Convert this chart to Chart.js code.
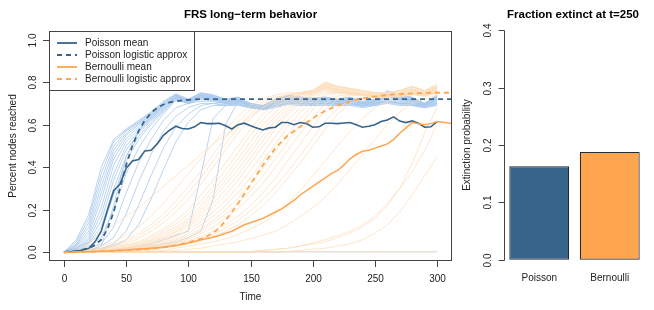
<!DOCTYPE html>
<html>
<head>
<meta charset="utf-8">
<script src="https://cdn.jsdelivr.net/npm/chart.js@4"></script>
<style>
  body { margin: 0; background: #fff; }
  #wrap { position: relative; width: 654px; height: 310px; }
  #left { position: absolute; left: 0; top: 0; }
  #right { position: absolute; left: 460px; top: 0; }
</style>
</head>
<body>
<div id="wrap">
  <canvas id="left" width="460" height="310"></canvas>
  <canvas id="right" width="194" height="310"></canvas>
</div>
<script>
// time grids
const timeFine = [0,5,10,15,20,25,30,35,40,45,50,55,60,65,70,75,80,85,90,95,100,105,110,115,120,125,130,135,140,145,150,
  155,160,165,170,175,180,185,190,195,200,205,210,215,220,225,230,235,240,245,250,255,260,265,270,275,280,285,290,295,300];
const timeExt = timeFine.concat([320]);
const timeCoarse = [0,10,20,30,40,50,60,70,80,90,100,110,120,130,140,150,160,170,180,190,200,210,220,230,240,250,260,270,280,290,300];

// mean curves (step 5)
const poissonMean = [0,0.003,0.006,0.012,0.02,0.05,0.10,0.20,0.29,0.32,0.395,0.43,0.437,0.477,0.48,0.51,0.55,0.574,0.593,0.582,0.58,0.59,0.61,0.605,0.605,0.607,0.595,0.58,0.60,0.607,0.595,
  0.585,0.575,0.585,0.588,0.61,0.61,0.60,0.61,0.605,0.588,0.59,0.607,0.607,0.605,0.608,0.61,0.60,0.588,0.593,0.60,0.615,0.622,0.637,0.617,0.61,0.618,0.607,0.588,0.59,0.614];
const poissonLogis = [0.003,0.005,0.008,0.013,0.02,0.035,0.06,0.11,0.19,0.30,0.41,0.50,0.57,0.62,0.655,0.68,0.695,0.705,0.71,0.714,0.717,0.719,0.72,0.72,0.72,0.72,0.72,0.72,0.72,0.72,0.72,
  0.72,0.72,0.72,0.72,0.72,0.72,0.72,0.72,0.72,0.72,0.72,0.72,0.72,0.72,0.72,0.72,0.72,0.72,0.72,0.72,0.72,0.72,0.72,0.72,0.72,0.72,0.72,0.72,0.72,0.72,0.72];
const bernMean = [0,0.001,0.002,0.003,0.004,0.005,0.006,0.007,0.008,0.01,0.012,0.014,0.016,0.018,0.02,0.022,0.025,0.029,0.033,0.039,0.045,0.052,0.06,0.066,0.072,0.08,0.09,0.10,0.115,0.13,0.14,
  0.15,0.16,0.175,0.19,0.205,0.225,0.245,0.27,0.29,0.31,0.33,0.35,0.37,0.385,0.41,0.44,0.46,0.475,0.48,0.49,0.50,0.51,0.53,0.56,0.585,0.61,0.605,0.60,0.605,0.615,0.60];
const bernLogis = [0.002,0.003,0.003,0.004,0.004,0.005,0.006,0.007,0.008,0.009,0.011,0.012,0.014,0.016,0.019,0.022,0.025,0.029,0.034,0.04,0.047,0.055,0.064,0.076,0.092,0.115,0.15,0.19,0.23,0.275,0.32,
  0.365,0.41,0.45,0.49,0.52,0.55,0.57,0.59,0.61,0.63,0.648,0.665,0.678,0.69,0.70,0.71,0.717,0.723,0.728,0.732,0.736,0.739,0.742,0.744,0.746,0.747,0.748,0.749,0.75,0.75,0.75];

// individual Poisson runs (step 10)
const poissonRuns = [
  [0,0.06,0.18,0.40,0.53,0.58,0.62,0.66,0.71,0.745,0.72,0.75,0.74,0.72,0.73,0.70,0.69,0.72,0.74,0.73,0.725,0.73,0.72,0.73,0.71,0.72,0.76,0.74,0.73,0.70,0.74],
  [0,0.05,0.16,0.37,0.52,0.575,0.615,0.655,0.705,0.742,0.718,0.748,0.738,0.718,0.728,0.698,0.688,0.718,0.738,0.728,0.722,0.728,0.718,0.728,0.708,0.718,0.755,0.738,0.728,0.70,0.738],
  [0,0.04,0.14,0.34,0.50,0.57,0.61,0.65,0.70,0.74,0.715,0.745,0.735,0.715,0.725,0.695,0.685,0.715,0.735,0.725,0.72,0.725,0.715,0.725,0.705,0.715,0.75,0.735,0.725,0.70,0.735],
  [0,0.035,0.12,0.31,0.48,0.56,0.605,0.645,0.695,0.738,0.712,0.742,0.732,0.712,0.722,0.692,0.685,0.712,0.732,0.722,0.718,0.722,0.712,0.722,0.702,0.712,0.748,0.732,0.722,0.698,0.732],
  [0,0.03,0.10,0.28,0.46,0.55,0.60,0.64,0.69,0.735,0.71,0.74,0.73,0.71,0.72,0.69,0.685,0.71,0.73,0.72,0.715,0.72,0.71,0.72,0.70,0.71,0.745,0.73,0.72,0.695,0.73],
  [0,0.025,0.085,0.25,0.44,0.535,0.59,0.635,0.685,0.732,0.71,0.738,0.728,0.71,0.718,0.69,0.682,0.708,0.728,0.718,0.712,0.718,0.71,0.718,0.70,0.71,0.742,0.728,0.718,0.695,0.728],
  [0,0.02,0.07,0.21,0.41,0.52,0.58,0.63,0.68,0.73,0.71,0.735,0.725,0.71,0.715,0.69,0.68,0.705,0.725,0.715,0.71,0.715,0.71,0.715,0.70,0.71,0.74,0.725,0.715,0.695,0.725],
  [0,0.015,0.06,0.18,0.37,0.50,0.57,0.625,0.675,0.728,0.708,0.732,0.722,0.708,0.712,0.69,0.68,0.702,0.722,0.712,0.71,0.712,0.708,0.712,0.70,0.708,0.738,0.722,0.712,0.692,0.722],
  [0,0.02,0.05,0.15,0.34,0.48,0.56,0.62,0.67,0.725,0.705,0.73,0.72,0.705,0.71,0.69,0.68,0.70,0.72,0.71,0.71,0.71,0.705,0.71,0.70,0.705,0.735,0.72,0.71,0.69,0.72],
  [0,0.012,0.045,0.12,0.30,0.45,0.545,0.61,0.665,0.722,0.702,0.728,0.718,0.702,0.71,0.688,0.678,0.70,0.718,0.708,0.708,0.708,0.702,0.708,0.698,0.702,0.732,0.718,0.708,0.69,0.718],
  [0,0.01,0.04,0.10,0.27,0.43,0.53,0.60,0.66,0.72,0.70,0.725,0.715,0.70,0.71,0.685,0.675,0.70,0.715,0.705,0.705,0.705,0.70,0.705,0.695,0.70,0.73,0.715,0.705,0.69,0.715],
  [0,0.01,0.03,0.07,0.20,0.37,0.49,0.58,0.65,0.715,0.70,0.72,0.71,0.70,0.705,0.685,0.675,0.695,0.71,0.70,0.70,0.70,0.70,0.70,0.69,0.70,0.72,0.71,0.70,0.69,0.71],
  [0,0.005,0.02,0.04,0.12,0.28,0.42,0.53,0.62,0.68,0.70,0.71,0.71,0.70,0.70,0.68,0.675,0.69,0.705,0.70,0.70,0.70,0.70,0.70,0.69,0.70,0.715,0.705,0.70,0.69,0.705],
  [0,0.005,0.01,0.03,0.07,0.18,0.33,0.46,0.57,0.64,0.68,0.70,0.70,0.695,0.70,0.68,0.675,0.69,0.70,0.70,0.695,0.70,0.695,0.70,0.69,0.695,0.71,0.70,0.695,0.685,0.70],
  [0,0,0.01,0.02,0.04,0.10,0.22,0.36,0.49,0.59,0.65,0.69,0.70,0.69,0.695,0.68,0.67,0.685,0.70,0.695,0.69,0.695,0.69,0.695,0.685,0.69,0.705,0.695,0.69,0.68,0.695],
  [0,0,0.005,0.015,0.03,0.06,0.13,0.25,0.39,0.52,0.61,0.67,0.69,0.69,0.69,0.68,0.67,0.68,0.695,0.69,0.69,0.69,0.69,0.69,0.68,0.69,0.70,0.69,0.69,0.68,0.69],
  [0,0.005,0.01,0.03,0.22,0.45,0.57,0.64,0.69,0.73,0.71,0.735,0.725,0.71,0.715,0.69,0.68,0.705,0.725,0.715,0.71,0.715,0.71,0.715,0.70,0.71,0.74,0.725,0.715,0.695,0.725],
  [0,0,0.005,0.01,0.015,0.02,0.03,0.04,0.06,0.08,0.10,0.36,0.63,0.69,0.70,0.68,0.675,0.69,0.70,0.70,0.695,0.70,0.695,0.70,0.69,0.695,0.71,0.70,0.695,0.685,0.70],
  [0,0,0,0.005,0.01,0.015,0.02,0.03,0.04,0.05,0.07,0.10,0.25,0.60,0.71,0.70,0.69,0.70,0.71,0.70,0.70,0.70,0.70,0.70,0.69,0.70,0.71,0.70,0.70,0.69,0.70],
  [0,0.003,0.003,0.003,0.003,0.003,0.003,0.003,0.003,0.003,0.003,0.003,0.003,0.003,0.003,0.003,0.003,0.003,0.003,0.003,0.003,0.003,0.003,0.003,0.003,0.003,0.003,0.003,0.003,0.003,0.003]
];

// individual Bernoulli runs (step 10)
const bernRuns = [
  [0,0.01,0.04,0.09,0.13,0.17,0.21,0.26,0.31,0.36,0.41,0.46,0.51,0.55,0.59,0.64,0.68,0.71,0.73,0.74,0.76,0.80,0.78,0.77,0.76,0.75,0.75,0.76,0.78,0.76,0.79],
  [0,0.005,0.015,0.03,0.05,0.08,0.12,0.17,0.23,0.30,0.37,0.44,0.51,0.58,0.64,0.69,0.72,0.74,0.75,0.75,0.76,0.80,0.78,0.77,0.76,0.75,0.75,0.76,0.78,0.76,0.79],
  [0,0.005,0.01,0.02,0.035,0.06,0.09,0.13,0.18,0.24,0.31,0.38,0.46,0.54,0.61,0.67,0.71,0.73,0.74,0.75,0.76,0.79,0.78,0.77,0.76,0.75,0.75,0.76,0.78,0.76,0.78],
  [0,0.004,0.008,0.018,0.03,0.05,0.078,0.115,0.16,0.215,0.28,0.35,0.43,0.51,0.585,0.65,0.70,0.725,0.74,0.75,0.76,0.795,0.778,0.768,0.758,0.75,0.748,0.758,0.778,0.758,0.78],
  [0,0,0.005,0.015,0.025,0.04,0.065,0.10,0.14,0.19,0.25,0.32,0.40,0.48,0.56,0.63,0.68,0.72,0.74,0.75,0.76,0.79,0.775,0.765,0.755,0.75,0.745,0.755,0.775,0.755,0.78],
  [0,0,0.005,0.01,0.02,0.035,0.05,0.08,0.11,0.15,0.20,0.27,0.34,0.42,0.50,0.58,0.65,0.70,0.73,0.745,0.755,0.785,0.77,0.76,0.75,0.745,0.745,0.75,0.77,0.75,0.775],
  [0,0,0.004,0.008,0.018,0.03,0.045,0.07,0.10,0.135,0.18,0.24,0.31,0.39,0.47,0.55,0.625,0.685,0.72,0.74,0.752,0.782,0.768,0.758,0.748,0.742,0.742,0.748,0.768,0.748,0.772],
  [0,0,0,0.005,0.015,0.025,0.04,0.06,0.09,0.12,0.16,0.22,0.29,0.36,0.44,0.52,0.60,0.66,0.71,0.74,0.75,0.78,0.765,0.755,0.745,0.74,0.74,0.745,0.765,0.745,0.77],
  [0,0,0,0.005,0.012,0.022,0.035,0.055,0.08,0.11,0.15,0.205,0.27,0.34,0.415,0.495,0.575,0.64,0.695,0.73,0.748,0.778,0.762,0.752,0.745,0.74,0.738,0.745,0.762,0.745,0.768],
  [0,0,0,0.005,0.01,0.02,0.03,0.05,0.07,0.10,0.14,0.19,0.25,0.32,0.39,0.47,0.55,0.62,0.68,0.72,0.745,0.775,0.76,0.75,0.745,0.74,0.735,0.745,0.76,0.745,0.765],
  [0,0,0,0.004,0.01,0.018,0.03,0.045,0.068,0.095,0.13,0.175,0.23,0.295,0.365,0.445,0.525,0.60,0.665,0.71,0.74,0.772,0.758,0.75,0.742,0.738,0.735,0.742,0.758,0.742,0.762],
  [0,0,0,0,0.005,0.015,0.025,0.04,0.06,0.085,0.12,0.16,0.21,0.27,0.34,0.42,0.50,0.58,0.65,0.70,0.735,0.77,0.755,0.75,0.74,0.735,0.735,0.74,0.755,0.74,0.76],
  [0,0,0,0,0.006,0.012,0.022,0.035,0.052,0.075,0.105,0.145,0.19,0.245,0.31,0.385,0.465,0.545,0.62,0.68,0.725,0.765,0.752,0.748,0.74,0.735,0.732,0.74,0.752,0.74,0.758],
  [0,0,0,0,0.005,0.01,0.02,0.03,0.045,0.065,0.09,0.13,0.17,0.22,0.28,0.35,0.43,0.51,0.59,0.66,0.71,0.76,0.75,0.745,0.74,0.735,0.73,0.74,0.75,0.74,0.755],
  [0,0,0,0,0.004,0.008,0.015,0.026,0.04,0.058,0.08,0.11,0.15,0.20,0.255,0.32,0.395,0.475,0.555,0.63,0.69,0.75,0.75,0.745,0.74,0.735,0.73,0.738,0.75,0.74,0.755],
  [0,0,0,0,0,0.005,0.015,0.025,0.035,0.05,0.07,0.10,0.14,0.18,0.23,0.29,0.36,0.44,0.52,0.60,0.67,0.74,0.75,0.745,0.74,0.735,0.73,0.735,0.75,0.74,0.755],
  [0,0,0,0,0,0.004,0.01,0.02,0.03,0.045,0.062,0.088,0.12,0.16,0.205,0.26,0.325,0.40,0.48,0.56,0.63,0.70,0.735,0.742,0.738,0.732,0.73,0.735,0.748,0.738,0.752],
  [0,0,0,0,0,0,0.01,0.02,0.03,0.04,0.055,0.075,0.10,0.13,0.17,0.22,0.28,0.35,0.43,0.51,0.59,0.67,0.72,0.74,0.735,0.73,0.73,0.735,0.745,0.735,0.75],
  [0,0,0,0,0,0,0.006,0.012,0.022,0.032,0.045,0.062,0.085,0.115,0.15,0.195,0.25,0.31,0.38,0.455,0.535,0.615,0.675,0.715,0.728,0.73,0.73,0.735,0.745,0.735,0.75],
  [0,0,0,0,0,0,0.005,0.01,0.02,0.03,0.04,0.055,0.075,0.10,0.13,0.17,0.22,0.28,0.35,0.42,0.50,0.58,0.65,0.70,0.72,0.73,0.73,0.735,0.745,0.735,0.75],
  [0,0,0,0,0,0,0,0.005,0.01,0.02,0.03,0.04,0.05,0.065,0.085,0.11,0.14,0.18,0.23,0.29,0.36,0.43,0.50,0.57,0.63,0.68,0.71,0.73,0.74,0.735,0.75],
  [0,0,0,0,0,0,0,0,0.005,0.01,0.015,0.02,0.03,0.04,0.05,0.065,0.08,0.10,0.13,0.17,0.21,0.26,0.32,0.39,0.46,0.53,0.60,0.66,0.70,0.72,0.74],
  [0,0,0,0,0,0,0,0,0,0,0,0,0,0,0,0.005,0.01,0.015,0.02,0.03,0.04,0.05,0.07,0.09,0.12,0.16,0.22,0.30,0.42,0.56,0.68],
  [0,0,0,0,0,0,0,0,0,0,0,0,0,0,0,0.005,0.01,0.015,0.02,0.03,0.045,0.06,0.08,0.10,0.13,0.17,0.23,0.30,0.38,0.48,0.60],
  [0,0,0,0,0,0,0,0,0,0,0,0,0,0,0,0,0,0,0.005,0.01,0.015,0.02,0.03,0.04,0.06,0.09,0.13,0.19,0.27,0.36,0.45],
  [0,0.004,0.004,0.004,0.004,0.004,0.004,0.004,0.004,0.004,0.004,0.004,0.004,0.004,0.004,0.004,0.004,0.004,0.004,0.004,0.004,0.004,0.004,0.004,0.004,0.004,0.004,0.004,0.004,0.004,0.004]
];

const xTicks = [0, 50, 100, 150, 200, 250, 300];
const yTicks = [0.0, 0.2, 0.4, 0.6, 0.8, 1.0];

const barLabels = ['Poisson', 'Bernoulli'];
const extinctFrac = [0.163, 0.188];
const barTicks = [0.0, 0.1, 0.2, 0.3, 0.4];

const DARK_BLUE = '#36648B';
const ORANGE = '#FFA54F';
const FAINT_BLUE = 'rgba(168,200,236,0.8)';
const FAINT_ORANGE = 'rgba(253,220,184,0.72)';
const FONT = '"Liberation Sans", Arial, sans-serif';

function pts(xs, ys) { return ys.map((y, i) => ({ x: xs[i], y: y })); }

const datasets = [];
poissonRuns.forEach(r => datasets.push({ data: pts(timeCoarse, r), borderColor: FAINT_BLUE, borderWidth: 1, order: 20 }));
bernRuns.forEach(r => datasets.push({ data: pts(timeCoarse, r), borderColor: FAINT_ORANGE, borderWidth: 1, order: 10 }));
datasets.push({ data: pts(timeExt, bernLogis), borderColor: ORANGE, borderWidth: 1.8, borderDash: [5, 4], order: 1 });
datasets.push({ data: pts(timeExt, bernMean), borderColor: ORANGE, borderWidth: 1.5, order: 2 });
datasets.push({ data: pts(timeExt, poissonLogis), borderColor: DARK_BLUE, borderWidth: 1.8, borderDash: [5, 4], order: 3 });
datasets.push({ data: pts(timeFine, poissonMean), borderColor: DARK_BLUE, borderWidth: 1.6, order: 4 });

const legendItems = [
  { text: 'Poisson mean', color: DARK_BLUE, dash: [] },
  { text: 'Poisson logistic approx', color: DARK_BLUE, dash: [5, 4] },
  { text: 'Bernoulli mean', color: ORANGE, dash: [] },
  { text: 'Bernoulli logistic approx', color: ORANGE, dash: [5, 4] }
];

// R-style box, ticks, labels and legend for the left panel
const leftDecor = {
  id: 'leftDecor',
  afterDraw(chart) {
    const ctx = chart.ctx, a = chart.chartArea, xs = chart.scales.x, ys = chart.scales.y;
    ctx.save();
    // legend
    const lx = a.left, ly = a.top, lw = 145, lh = 59;
    ctx.fillStyle = '#fff';
    ctx.fillRect(lx, ly, lw, lh);
    ctx.strokeStyle = '#444';
    ctx.lineWidth = 1;
    ctx.strokeRect(lx + 0.5, ly + 0.5, lw, lh);
    ctx.font = '10px ' + FONT;
    ctx.textBaseline = 'middle';
    ctx.textAlign = 'left';
    legendItems.forEach((it, i) => {
      const yy = ly + 12 + i * 12;
      ctx.beginPath();
      ctx.setLineDash(it.dash);
      ctx.strokeStyle = it.color;
      ctx.lineWidth = 1.8;
      ctx.moveTo(lx + 8, yy);
      ctx.lineTo(lx + 28, yy);
      ctx.stroke();
      ctx.setLineDash([]);
      ctx.fillStyle = '#222';
      ctx.fillText(it.text, lx + 36, yy);
    });
    // box
    ctx.strokeStyle = '#444';
    ctx.lineWidth = 1;
    ctx.strokeRect(a.left + 0.5, a.top + 0.5, a.right - a.left - 1, a.bottom - a.top - 1);
    ctx.fillStyle = '#222';
    ctx.font = '10px ' + FONT;
    // x ticks
    ctx.textAlign = 'center';
    ctx.textBaseline = 'middle';
    xTicks.forEach(v => {
      const px = Math.round(xs.getPixelForValue(v)) + 0.5;
      ctx.beginPath();
      ctx.moveTo(px, a.bottom);
      ctx.lineTo(px, a.bottom + 6);
      ctx.stroke();
      ctx.fillText(String(v), px, a.bottom + 18);
    });
    // y ticks
    yTicks.forEach(v => {
      const py = Math.round(ys.getPixelForValue(v)) + 0.5;
      ctx.beginPath();
      ctx.moveTo(a.left, py);
      ctx.lineTo(a.left - 6, py);
      ctx.stroke();
      ctx.save();
      ctx.translate(a.left - 16, py);
      ctx.rotate(-Math.PI / 2);
      ctx.fillText(v.toFixed(1), 0, 0);
      ctx.restore();
    });
    // axis titles
    ctx.fillText('Time', (xs.getPixelForValue(0) + xs.getPixelForValue(300)) / 2, 297);
    ctx.save();
    ctx.translate(13, (a.top + a.bottom) / 2);
    ctx.rotate(-Math.PI / 2);
    ctx.fillText('Percent nodes reached', 0, 0);
    ctx.restore();
    ctx.font = 'bold 11.5px ' + FONT;
    ctx.fillStyle = '#000';
    ctx.fillText('FRS long\u2212term behavior', (a.left + a.right) / 2, 15);
    ctx.restore();
  }
};

new Chart(document.getElementById('left'), {
  type: 'line',
  data: { datasets: datasets },
  options: {
    responsive: false,
    devicePixelRatio: 1,
    animation: false,
    layout: { padding: { left: 49, top: 31, right: 8, bottom: 49 } },
    elements: { point: { radius: 0 }, line: { tension: 0, fill: false } },
    plugins: { legend: { display: false }, tooltip: { enabled: false } },
    scales: {
      x: { type: 'linear', min: -12, max: 312, display: false },
      y: { type: 'linear', min: -0.04, max: 1.04, display: false }
    }
  },
  plugins: [leftDecor]
});

// axis, ticks and labels for the bar panel
const rightDecor = {
  id: 'rightDecor',
  afterDraw(chart) {
    const ctx = chart.ctx, a = chart.chartArea, xs = chart.scales.x, ys = chart.scales.y;
    ctx.save();
    ctx.strokeStyle = '#444';
    ctx.lineWidth = 1;
    const ax = a.left + 0.5;
    ctx.beginPath();
    ctx.moveTo(ax, Math.round(ys.getPixelForValue(0)) + 0.5);
    ctx.lineTo(ax, Math.round(ys.getPixelForValue(0.4)) + 0.5);
    ctx.stroke();
    ctx.fillStyle = '#222';
    ctx.font = '10px ' + FONT;
    ctx.textAlign = 'center';
    ctx.textBaseline = 'middle';
    barTicks.forEach(v => {
      const py = Math.round(ys.getPixelForValue(v)) + 0.5;
      ctx.beginPath();
      ctx.moveTo(ax, py);
      ctx.lineTo(ax - 6, py);
      ctx.stroke();
      ctx.save();
      ctx.translate(ax - 16, py);
      ctx.rotate(-Math.PI / 2);
      ctx.fillText(v.toFixed(1), 0, 0);
      ctx.restore();
    });
    barLabels.forEach((l, i) => {
      ctx.fillText(l, xs.getPixelForValue(i), 278);
    });
    ctx.save();
    ctx.translate(7, (a.top + a.bottom) / 2);
    ctx.rotate(-Math.PI / 2);
    ctx.fillText('Extinction probability', 0, 0);
    ctx.restore();
    ctx.font = 'bold 11.5px ' + FONT;
    ctx.fillStyle = '#000';
    ctx.fillText('Fraction extinct at t=250', 113, 15);
    ctx.restore();
  }
};

new Chart(document.getElementById('right'), {
  type: 'bar',
  data: {
    labels: barLabels,
    datasets: [{
      data: extinctFrac,
      backgroundColor: [DARK_BLUE, ORANGE],
      borderColor: '#2a2a2a',
      borderWidth: 1.2,
      borderSkipped: false,
      barPercentage: 0.85,
      categoryPercentage: 1
    }]
  },
  options: {
    responsive: false,
    devicePixelRatio: 1,
    animation: false,
    layout: { padding: { left: 44, top: 21, right: 9, bottom: 41 } },
    plugins: { legend: { display: false }, tooltip: { enabled: false } },
    scales: {
      x: { display: false },
      y: { min: -0.016, max: 0.416, display: false }
    }
  },
  plugins: [rightDecor]
});
</script>
</body>
</html>
